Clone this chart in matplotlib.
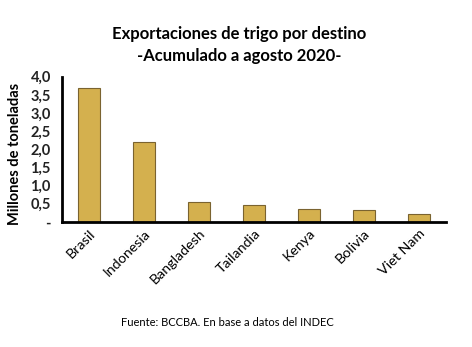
import matplotlib
matplotlib.use("Agg")
import matplotlib.pyplot as plt
from matplotlib.ticker import FixedLocator, FixedFormatter
from matplotlib.transforms import ScaledTranslation

categories = ["Brasil", "Indonesia", "Bangladesh", "Tailandia", "Kenya", "Bolivia", "Viet Nam"]
values = [3.68, 2.19, 0.535, 0.45, 0.34, 0.31, 0.20]
yticks = [0, 0.5, 1.0, 1.5, 2.0, 2.5, 3.0, 3.5, 4.0]
ytick_labels = ["-", "0,5", "1,0", "1,5", "2,0", "2,5", "3,0", "3,5", "4,0"]

plt.rcParams['font.family'] = ['Lato', 'DejaVu Sans']

fig = plt.figure(figsize=(4.72, 3.47), dpi=100)
ax = fig.add_axes([62/472, 1-221.7/347, (446-62)/472, (221.7-76.7)/347])

x = list(range(len(categories)))
ax.bar(x, values, width=0.4, color="#D4B04E", edgecolor="#7A6330", linewidth=0.8)

ax.set_xlim(-0.5, len(categories) - 0.5)
ax.set_ylim(0, 4.0)
ax.yaxis.set_major_locator(FixedLocator(yticks))
ax.yaxis.set_major_formatter(FixedFormatter(ytick_labels))
ax.set_xticks(x)
ax.set_xticklabels(categories, rotation=45, ha="right", va="top", rotation_mode="anchor",
                   fontsize=10.3)
offset = ScaledTranslation(6/100, 0/100, fig.dpi_scale_trans)
for lab in ax.get_xticklabels():
    lab.set_transform(lab.get_transform() + offset)
for lab in ax.get_yticklabels():
    lab.set_fontsize(10.5)
    lab.set_fontweight("bold")
    lab.set_color("#222222")

ax.tick_params(axis="both", length=0)
ax.tick_params(axis="y", pad=8)
ax.tick_params(axis="x", pad=4)
for s in ["top", "right"]:
    ax.spines[s].set_visible(False)
for s in ["left", "bottom"]:
    ax.spines[s].set_linewidth(2)
    ax.spines[s].set_color("black")

ax.set_ylabel("Millones de toneladas", fontsize=10.5, fontweight="bold")
ax.yaxis.set_label_coords(-0.105, 0.47)

fig.text(0.507, 1-34/347, "Exportaciones de trigo por destino", ha="center", va="center",
         fontsize=12, fontweight="bold")
fig.text(0.507, 1-56/347, "-Acumulado a agosto 2020-", ha="center", va="center",
         fontsize=12, fontweight="bold")
fig.text(227/472, 1-322/347, "Fuente: BCCBA. En base a datos del INDEC", ha="center", va="center",
         fontsize=8)

fig.savefig("out.png", dpi=100, facecolor="white")
